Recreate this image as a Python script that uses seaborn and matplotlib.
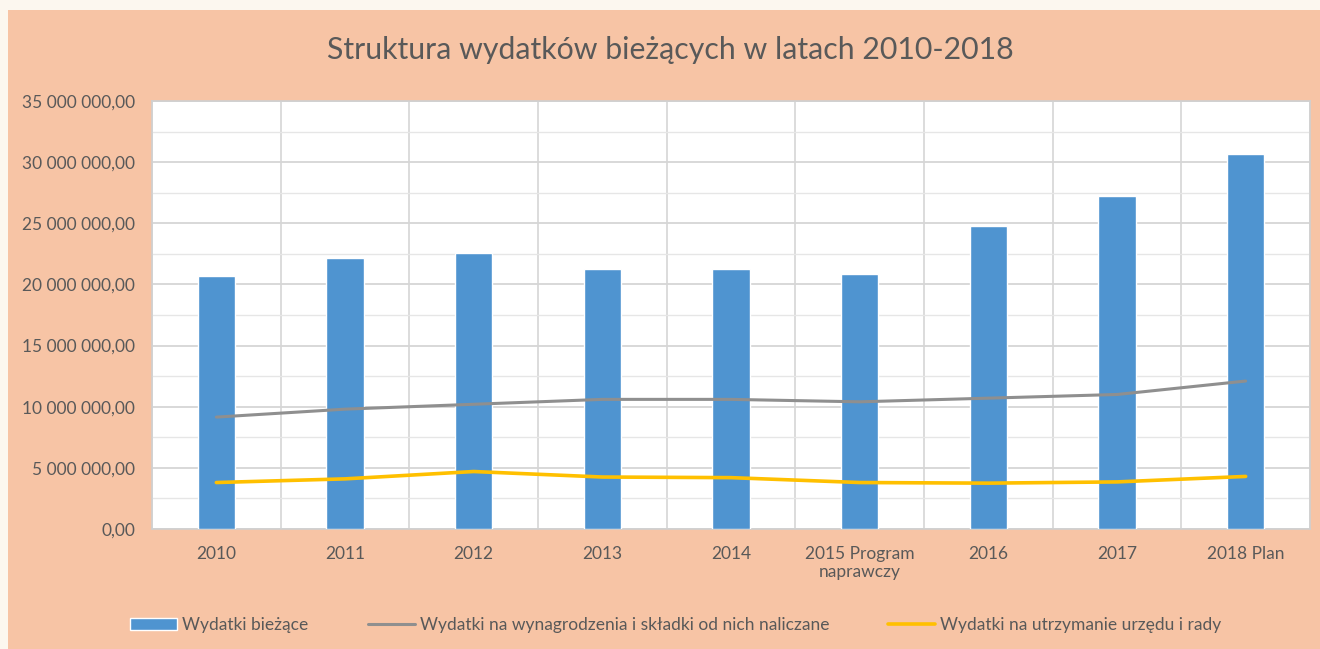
import numpy as np
import pandas as pd
import matplotlib.pyplot as plt
import matplotlib.ticker as mticker
from matplotlib.patches import Rectangle
import seaborn as sns

categories = ["2010", "2011", "2012", "2013", "2014", "2015 Program\nnaprawczy", "2016", "2017", "2018 Plan"]
wydatki_biezace = [20.7e6, 22.2e6, 22.6e6, 21.3e6, 21.3e6, 20.85e6, 24.8e6, 27.2e6, 30.7e6]
wynagrodzenia = [9.15e6, 9.8e6, 10.2e6, 10.6e6, 10.6e6, 10.4e6, 10.7e6, 11.0e6, 12.1e6]
utrzymanie = [3.8e6, 4.1e6, 4.7e6, 4.25e6, 4.2e6, 3.8e6, 3.75e6, 3.85e6, 4.3e6]

labels = ["Wydatki bieżące",
          "Wydatki na wynagrodzenia i składki od nich naliczane",
          "Wydatki na utrzymanie urzędu i rady"]

BLUE = "#4f94d0"
GRAY = "#8f8f8f"
YELLOW = "#ffc000"
TEXT = "#595959"

sns.set_theme(style="white")
plt.rcParams['font.family'] = ['Lato', 'DejaVu Sans']

df = pd.DataFrame({"kat": categories, "biezace": wydatki_biezace,
                   "wyn": wynagrodzenia, "utrz": utrzymanie})
df["pos"] = np.arange(len(df))

fig = plt.figure(figsize=(13.2, 6.49), dpi=100)
fig.patch.set_facecolor("#fcf7ef")
fig.patches.append(Rectangle((8 / 1320, 0), 1 - 8 / 1320, 1 - 10 / 649,
                             transform=fig.transFigure, facecolor="#f7c4a5",
                             edgecolor="none", zorder=-10))

ax = fig.add_axes([152 / 1320, 1 - 529 / 649, (1310 - 152) / 1320, (529 - 101) / 649])
ax.set_facecolor("white")

sns.barplot(data=df, x="pos", y="biezace", color=BLUE, width=0.29,
            saturation=1, ax=ax, label=labels[0], zorder=3)
sns.lineplot(data=df, x="pos", y="wyn", color=GRAY, linewidth=2.2,
             ax=ax, label=labels[1], zorder=4)
sns.lineplot(data=df, x="pos", y="utrz", color=YELLOW, linewidth=2.6,
             ax=ax, label=labels[2], zorder=4)

ax.set_xlim(-0.5, len(categories) - 0.5)
ax.set_ylim(0, 35e6)
ax.set_xticks(df["pos"])
ax.set_xticklabels(categories, color=TEXT, fontsize=12.5)
ax.yaxis.set_major_locator(mticker.MultipleLocator(5e6))
ax.yaxis.set_minor_locator(mticker.MultipleLocator(2.5e6))
ax.xaxis.set_minor_locator(mticker.FixedLocator(np.arange(-0.5, len(categories), 1.0)))


def pl_fmt(v, _):
    s = f"{v:,.2f}"
    return s.replace(",", " ").replace(".", ",")


ax.yaxis.set_major_formatter(mticker.FuncFormatter(pl_fmt))
ax.tick_params(axis="y", labelsize=12.5, labelcolor=TEXT, length=0, pad=12)
ax.tick_params(axis="x", which="major", length=0, pad=12)
ax.tick_params(axis="x", which="minor", length=6, color="#d0d0d0", width=1)
ax.tick_params(axis="y", which="minor", length=0)

ax.grid(axis="y", which="major", color="#d6d6d6", linewidth=1.3, zorder=0)
ax.grid(axis="y", which="minor", color="#e6e6e6", linewidth=1.0, zorder=0)
ax.grid(axis="x", which="minor", color="#d6d6d6", linewidth=1.2, zorder=0)
ax.set_axisbelow(True)
for side, sp in ax.spines.items():
    sp.set_visible(True)
    sp.set_color("#d0d0d0")
    sp.set_linewidth(1.2)

ax.set_xlabel("")
ax.set_ylabel("")

fig.text(670 / 1320, 1 - 50 / 649, "Struktura wydatków bieżących w latach 2010-2018",
         ha="center", va="center", fontsize=21.8, color=TEXT)

handles, lbls = ax.get_legend_handles_labels()
by_label = dict(zip(lbls, handles))
ax.legend([by_label[l] for l in labels], labels, loc="center",
          bbox_to_anchor=(676 / 1320, 1 - 625 / 649),
          bbox_transform=fig.transFigure, ncol=3, frameon=False, fontsize=12.5,
          labelcolor=TEXT, columnspacing=3.4, handlelength=2.7, handletextpad=0.3)

fig.savefig("out.png", dpi=100, facecolor=fig.get_facecolor())
